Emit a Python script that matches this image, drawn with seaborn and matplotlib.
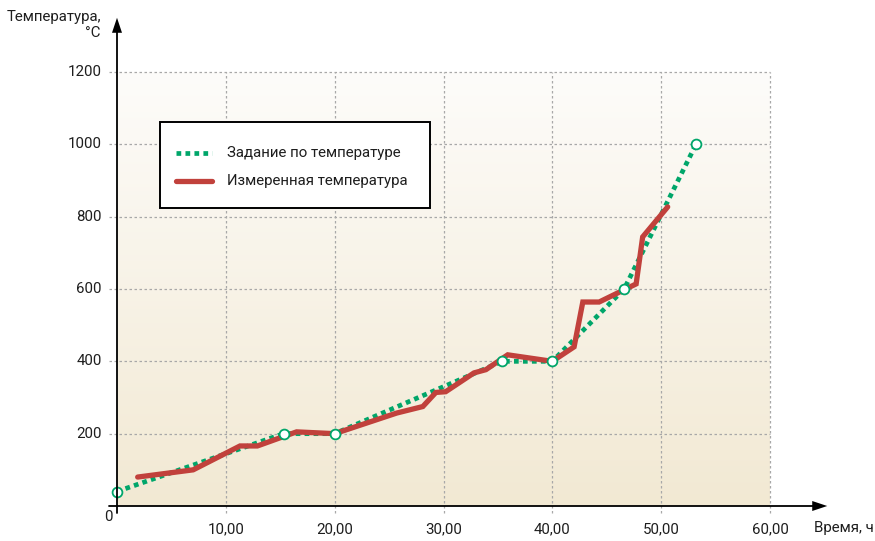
import numpy as np
import pandas as pd
import matplotlib
matplotlib.use("Agg")
import matplotlib.pyplot as plt
import seaborn as sns
from matplotlib import font_manager
from matplotlib.lines import Line2D
from matplotlib.patches import Rectangle
from matplotlib.colors import LinearSegmentedColormap

# ---- data ----
set_time = [0, 15.3, 20.0, 35.4, 40.0, 46.6, 53.2]
set_temp = [40, 200, 200, 400, 400, 600, 1000]

meas_time = [1.9, 7.0, 11.3, 12.9, 16.5, 20.0, 25.7, 28.1, 29.3, 30.2, 32.8,
             33.9, 35.9, 40.0, 42.0, 42.8, 44.3, 47.7, 48.3, 50.6]
meas_temp = [80, 100, 166, 166, 205, 200, 257, 275, 314, 316, 368,
             377, 418, 400, 440, 564, 564, 614, 744, 827]

x_ticks = [10, 20, 30, 40, 50, 60]
x_labels = ["10,00", "20,00", "30,00", "40,00", "50,00", "60,00"]
y_ticks = [200, 400, 600, 800, 1000, 1200]
y_labels = ["200", "400", "600", "800", "1000", "1200"]

series_names = ["Задание по температуре", "Измеренная температура"]
x_title = "Время, ч"
y_title = "Температура,\n°C"

GREEN = "#00a66a"
RED = "#c1413c"
TXT = "#1e1e1e"

sns.set_theme(style="white")
names = {f.name for f in font_manager.fontManager.ttflist}
narrow = "Liberation Sans Narrow" in names
if narrow:
    plt.rcParams['font.family'] = ['Liberation Sans Narrow', 'DejaVu Sans']
    fs = 12.5
else:
    plt.rcParams['font.family'] = ['Roboto', 'DejaVu Sans']
    fs = 10.8

W, H = 875, 541
fig = plt.figure(figsize=(W / 100, H / 100), dpi=100)
fig.patch.set_facecolor("white")

x0px, x60px, xendpx = 117, 770, 830
y0px, y1200px, ytoppx = 506, 72, 15
xmax = 60 * (xendpx - x0px) / (x60px - x0px)
ymax = 1200 * (y0px - ytoppx) / (y0px - y1200px)
ax = fig.add_axes([x0px / W, (H - y0px) / H, (xendpx - x0px) / W, (y0px - ytoppx) / H])
ax.set_xlim(0, xmax)
ax.set_ylim(0, ymax)
ax.set_facecolor("none")
for s in ax.spines.values():
    s.set_visible(False)
ax.set_xticks([])
ax.set_yticks([])

# gradient background
cmap = LinearSegmentedColormap.from_list("bg", ["#f2e9d3", "#fdfcfa"])
grad = np.linspace(0, 1, 256).reshape(-1, 1)
ax.imshow(grad, extent=(0, 60, 0, 1200), origin="lower", cmap=cmap,
          aspect="auto", zorder=0)

# grid
for xv in x_ticks:
    ax.plot([xv, xv], [-20, 1200], color="#a8a8a8", lw=0.9,
            linestyle=(0, (2, 2)), clip_on=False, zorder=1)
for yv in y_ticks:
    ax.plot([-0.7, 60], [yv, yv], color="#a8a8a8", lw=0.9,
            linestyle=(0, (2, 2)), clip_on=False, zorder=1)

# series
sns.lineplot(x=set_time, y=set_temp, ax=ax, color=GREEN, lw=3.4,
             linestyle=(0, (1, 0.9)), zorder=3, legend=False, sort=False)
ax.lines[-1].set_dash_capstyle("butt")
sns.lineplot(x=meas_time, y=meas_temp, ax=ax, color=RED, lw=3.8,
             zorder=4, legend=False, sort=False)
ax.lines[-1].set_solid_joinstyle("miter")
sns.scatterplot(x=set_time, y=set_temp, ax=ax, s=50, facecolor="white",
                edgecolor=GREEN, linewidth=1.3, zorder=5, clip_on=False)

# axes with arrows
ax.plot([-0.7, xmax - 1.2], [0, 0], color="black", lw=1.3, clip_on=False, zorder=6)
ax.plot([0, 0], [-20, ymax - 40], color="black", lw=1.3, clip_on=False, zorder=6)
ax.annotate("", xy=(xmax, 0), xytext=(xmax - 2.5, 0),
            arrowprops=dict(arrowstyle="-|>,head_length=0.9,head_width=0.3",
                            color="black", lw=0), zorder=7, annotation_clip=False)
ax.annotate("", xy=(0, ymax), xytext=(0, ymax - 80),
            arrowprops=dict(arrowstyle="-|>,head_length=0.9,head_width=0.3",
                            color="black", lw=0), zorder=7, annotation_clip=False)

# tick labels
for xv, lab in zip(x_ticks, x_labels):
    ax.text(xv, -65, lab, ha="center", va="center", fontsize=fs, color=TXT)
ax.text(-0.75, -30, "0", ha="center", va="center", fontsize=fs, color=TXT)
for yv, lab in zip(y_ticks, y_labels):
    ax.text(-1.4, yv, lab, ha="right", va="center", fontsize=fs, color=TXT)

fig.text(101 / W, 1 - 25 / H, y_title, ha="right", va="center", fontsize=fs,
         color=TXT, linespacing=1.2, multialignment="right")
fig.text(814 / W, 1 - 528 / H, x_title, ha="left", va="center", fontsize=fs,
         color=TXT)

# legend (manual frame + handles)
fig.add_artist(Rectangle((160 / W, 1 - 208 / H), 270 / W, 86 / H,
                         transform=fig.transFigure, facecolor="white",
                         edgecolor="black", lw=1.4, zorder=10))
rows = [153, 181]
styles = [dict(color=GREEN, lw=3.4, linestyle=(0, (1, 0.9)), dash_capstyle="butt"),
          dict(color=RED, lw=3.8)]
for yr, name, st in zip(rows, series_names, styles):
    fig.add_artist(Line2D([176 / W, 212 / W], [1 - yr / H, 1 - yr / H],
                          transform=fig.transFigure, zorder=11, **st))
    fig.text(227 / W, 1 - yr / H, name, ha="left", va="center", fontsize=fs,
             color=TXT, zorder=11)

fig.savefig("out.png", dpi=100)
